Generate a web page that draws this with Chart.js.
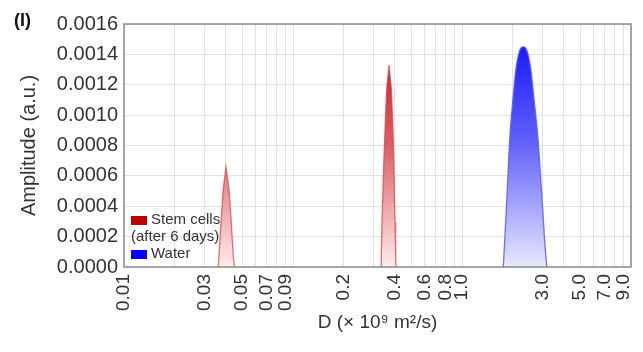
<!DOCTYPE html>
<html>
<head>
<meta charset="utf-8">
<script src="https://cdn.jsdelivr.net/npm/chart.js@4/dist/chart.umd.min.js"></script>
<style>
  html, body { margin: 0; padding: 0; background: #fff; }
  #wrap { position: relative; width: 643px; height: 352px; }
  #panel { position: absolute; left: 14px; top: 10px; font: bold 18px "Liberation Sans", Arial, sans-serif; color: #111; }
  #legend { position: absolute; left: 131px; top: 210px; font: 15px "Liberation Sans", Arial, sans-serif; color: #333; line-height: 17px; white-space: pre-line; }
  #legend .box { display: inline-block; width: 16px; height: 9px; margin-right: 4px; vertical-align: -1px; }
</style>
</head>
<body>
<div id="wrap">
  <canvas id="c" width="643" height="352"></canvas>
  <div id="panel">(I)</div>
  <div id="legend"></div>
</div>
<script>
// diffusion coefficient (x 10^9 m2/s) and amplitude
const stemD = [0.0361, 0.0365, 0.0375, 0.0387, 0.0401, 0.0418, 0.0431, 0.0443, 0.0450,
  0.3317, 0.3331, 0.3363, 0.3409, 0.3456, 0.3518, 0.3585, 0.370, 0.3817, 0.389, 0.3944, 0.3976, 0.4014, 0.4052, 0.4069];
const stemAmp = [0, 0.000076, 0.000296, 0.000516, 0.000658, 0.000516, 0.000296, 0.000076, 0,
  0, 0.000076, 0.000296, 0.000516, 0.000736, 0.000955, 0.001176, 0.00133, 0.001176, 0.000955, 0.000736, 0.000516, 0.000296, 0.000076, 0];

const waterD = [1.755, 1.796, 1.838, 1.879, 1.923, 1.995, 2.087, 2.183, 2.234, 2.306, 2.376, 2.435, 2.550, 2.678, 2.805, 2.894, 2.986, 3.069, 3.171];
const waterAmp = [0, 0.000208, 0.000428, 0.00065, 0.000868, 0.001087, 0.001308, 0.001417, 0.001442, 0.00145, 0.001442, 0.001417, 0.001308, 0.001087, 0.000868, 0.00065, 0.000428, 0.000208, 0];

const seriesLabels = ['Stem cells\n(after 6 days)', 'Water'];
const legendColors = ['#c00000', '#0000ff'];

const xTickLabels = ['0.01', '0.03', '0.05', '0.07', '0.09', '0.2', '0.4', '0.6', '0.8', '1.0', '3.0', '5.0', '7.0', '9.0'];
const yTicks = [0, 0.0002, 0.0004, 0.0006, 0.0008, 0.0010, 0.0012, 0.0014, 0.0016];

// grid lines at every 1..9 of each decade
const xGrid = [];
[0.01, 0.1, 1].forEach(dec => {
  for (let k = 1; k <= 9; k++) xGrid.push(dec * k);
});
xGrid.push(10);

function fillGrad(stops) {
  return (context) => {
    const {ctx, chartArea} = context.chart;
    if (!chartArea) return stops[stops.length - 1][1];
    const g = ctx.createLinearGradient(0, chartArea.top, 0, chartArea.bottom);
    stops.forEach(s => g.addColorStop(s[0], s[1]));
    return g;
  };
}

// no outline along the baseline between peaks
const hideFlat = (ctx) => (ctx.p0.parsed.y === 0 && ctx.p1.parsed.y === 0) ? 'rgba(0,0,0,0)' : undefined;

const frame = {
  id: 'frame',
  afterDatasetsDraw(chart) {
    const {ctx, chartArea: a} = chart;
    ctx.save();
    ctx.strokeStyle = '#8c8c8c';
    ctx.lineWidth = 1.5;
    ctx.strokeRect(a.left, a.top, a.right - a.left, a.bottom - a.top);
    ctx.restore();
  }
};

const font = '"Liberation Sans", Arial, sans-serif';

const chart = new Chart(document.getElementById('c'), {
  type: 'line',
  data: {
    datasets: [
      {
        label: seriesLabels[0],
        data: stemD.map((d, i) => ({x: d, y: stemAmp[i]})),
        borderColor: 'rgba(215,70,75,0.75)',
        borderWidth: 1.3,
        backgroundColor: fillGrad([[0, 'rgb(190,15,25)'], [0.5, 'rgb(220,95,100)'], [1, 'rgb(255,236,236)']]),
        fill: 'origin',
        pointRadius: 0,
        tension: 0,
        segment: { borderColor: hideFlat }
      },
      {
        label: seriesLabels[1],
        data: waterD.map((d, i) => ({x: d, y: waterAmp[i]})),
        borderColor: 'rgba(90,90,255,0.85)',
        borderWidth: 1.3,
        backgroundColor: fillGrad([[0, 'rgb(10,10,250)'], [0.5, 'rgb(100,100,250)'], [1, 'rgb(232,232,255)']]),
        fill: 'origin',
        pointRadius: 0,
        cubicInterpolationMode: 'monotone'
      }
    ]
  },
  options: {
    responsive: false,
    animation: false,
    layout: { padding: { left: 0, right: 12, top: 24, bottom: 0 } },
    plugins: {
      legend: { display: false },
      tooltip: { enabled: false }
    },
    scales: {
      x: {
        type: 'logarithmic',
        min: 0.01,
        max: 10,
        afterBuildTicks: (scale) => { scale.ticks = xGrid.map(v => ({value: v})); },
        afterFit: (scale) => { scale.height = 85; scale.paddingLeft = 0; scale.paddingRight = 0; },
        grid: { color: '#e2e2e2', lineWidth: 1, drawTicks: false },
        border: { display: false },
        ticks: {
          autoSkip: false,
          minRotation: 90,
          maxRotation: 90,
          padding: 7,
          color: '#333',
          font: { family: font, size: 19 },
          callback: (v) => {
            const lab = xTickLabels.find(t => Math.abs(parseFloat(t) - v) < v * 1e-6);
            return lab || '';
          }
        },
        title: {
          display: true,
          text: 'D (× 10⁹ m²/s)',
          color: '#333',
          font: { family: font, size: 19 },
          padding: { top: 0, bottom: 18 }
        }
      },
      y: {
        min: 0,
        max: 0.0016,
        afterBuildTicks: (scale) => { scale.ticks = yTicks.map(v => ({value: v})); },
        afterFit: (scale) => { scale.width = 124; },
        grid: { color: '#e2e2e2', lineWidth: 1, drawTicks: false },
        border: { display: false },
        ticks: {
          padding: 6,
          color: '#333',
          font: { family: font, size: 20 },
          callback: (v) => Number(v).toFixed(4)
        },
        title: {
          display: true,
          text: 'Amplitude (a.u.)',
          color: '#333',
          font: { family: font, size: 20 },
          padding: { top: 17, bottom: 0 }
        }
      }
    }
  },
  plugins: [frame]
});

// legend inside the plot, bottom left
const legendEl = document.getElementById('legend');
chart.data.datasets.forEach((ds, i) => {
  const item = document.createElement('div');
  const box = document.createElement('span');
  box.className = 'box';
  box.style.background = legendColors[i];
  item.appendChild(box);
  item.appendChild(document.createTextNode(ds.label));
  legendEl.appendChild(item);
});
</script>
</body>
</html>
